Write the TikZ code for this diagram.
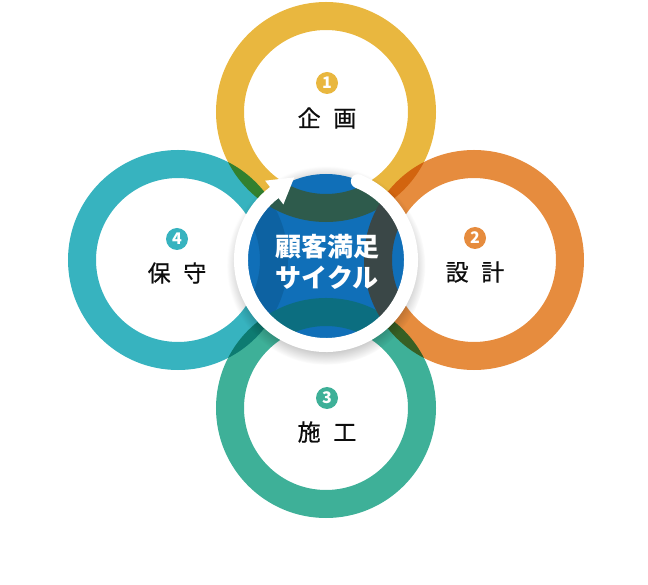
\documentclass[tikz,border=0pt]{standalone}
\usepackage{fontspec}
\setmainfont{Noto Sans CJK JP}
\newfontfamily\phasefont{Noto Sans CJK JP}[FakeBold=0.7]
\usetikzlibrary{shadows}

\definecolor{planY}{HTML}{E9B73F}
\definecolor{designO}{HTML}{E68C3E}
\definecolor{buildG}{HTML}{3EB098}
\definecolor{careT}{HTML}{37B3BF}
\definecolor{hubB}{HTML}{106FB8}
\definecolor{planD}{HTML}{2E5B4C}
\definecolor{designD}{HTML}{3A4747}
\definecolor{buildD}{HTML}{0C6E80}
\definecolor{careD}{HTML}{0D62A2}

\tikzset{
  ring/.style={line width=28pt},
  numdot/.style={circle, fill=#1, text=white, inner sep=0pt, minimum size=22pt,
    font=\bfseries\fontsize{16}{16}\selectfont},
  phase/.style={font=\phasefont\fontsize{23}{28}\selectfont, text=black!95},
}

\begin{document}
\begin{tikzpicture}[x=1pt,y=1pt]
  \useasboundingbox (0,0) rectangle (648,584);

  \coordinate (hub) at (326,324);
  \coordinate (plan) at (326,472);
  \coordinate (design) at (474,324);
  \coordinate (build) at (326,176);
  \coordinate (care) at (178,324);

  % soft shadow of the centre
  \path[circular drop shadow={shadow xshift=0pt, shadow yshift=-5pt, shadow scale=1.08, opacity=.45}] (hub) circle (92);

  \begin{scope}[blend mode=multiply]
    \draw[ring, planY] (plan) circle (96);
    \draw[ring, designO] (design) circle (96);
    \draw[ring, buildG] (build) circle (96);
    \draw[ring, careT] (care) circle (96);
  \end{scope}

  % centre disc, rings seen through it
  \fill[hubB] (hub) circle (86);
  \begin{scope}
    \clip (hub) circle (86);
    \draw[ring, careD] (care) circle (96);
    \draw[ring, buildD] (build) circle (96);
    \draw[ring, planD] (plan) circle (96);
    \draw[ring, designD] (design) circle (96);
  \end{scope}

  % white cycle arrow
  \draw[white, line width=14pt, line cap=round] ([shift={(68:85)}]hub) arc[start angle=68, end angle=-232.5, radius=85];
  \fill[white] ([shift={(127.5:100)}]hub) -- ([shift={(111:88.5)}]hub) -- ([shift={(127.5:70)}]hub) -- cycle;

  \node[align=center, text=white, font=\bfseries\fontsize{26}{31}\selectfont] (hubtext) at (327,322) {顧客満足\\サイクル};

  \node[numdot=planY] (n1) at (327,501) {1};
  \node[phase] (t1) at (327,466) {企\hspace{.55em}画};
  \node[numdot=designO] (n2) at (475,346) {2};
  \node[phase] (t2) at (475,312) {設\hspace{.55em}計};
  \node[numdot=buildG] (n3) at (327,186) {3};
  \node[phase] (t3) at (327,152) {施\hspace{.55em}工};
  \node[numdot=careT] (n4) at (177,345) {4};
  \node[phase] (t4) at (177,311) {保\hspace{.55em}守};

\end{tikzpicture}
\end{document}
